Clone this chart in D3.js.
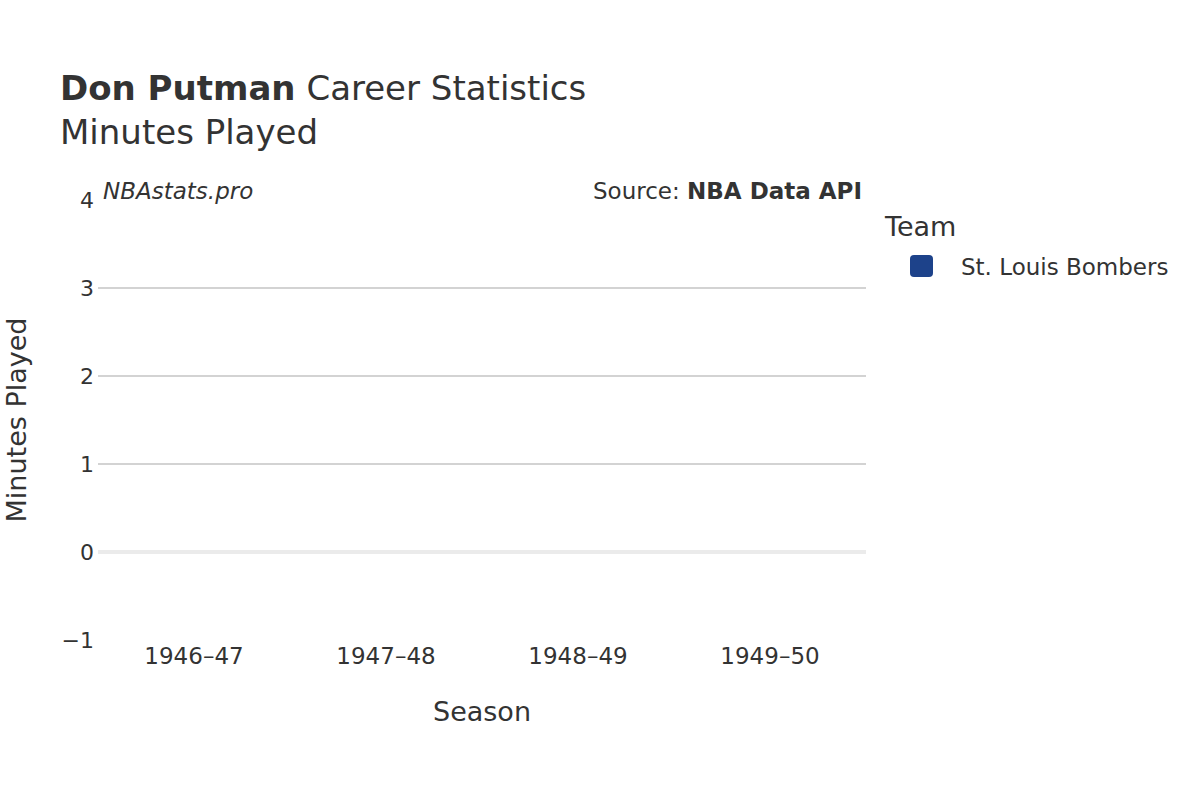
<!DOCTYPE html>
<html><head><meta charset="utf-8">
<script src="https://cdn.jsdelivr.net/npm/d3@7"></script>
<style>body{margin:0;background:#fff}text{font-family:"DejaVu Sans",sans-serif;fill:#333}</style>
</head><body><svg id="c" width="1200" height="800"></svg>
<script>
var seasons = ["1946–47", "1947–48", "1948–49", "1949–50"];
var minutes = [0, 0, 0, 0];
var yTicks = [-1, 0, 1, 2, 3, 4];
var teams = ["St. Louis Bombers"];
var teamColors = ["#1d428a"];

!(function(){
  "use strict";
  var svg = d3.select("#c");
  var x = d3.scaleBand().domain(seasons).range([98, 866]).paddingInner(0.2).paddingOuter(0.1);
  var y = d3.scaleLinear().domain([-1, 4]).range([640, 200]);

  // grid
  svg.append("g").selectAll("line").data(yTicks.filter(function(d){ return d > 0 && d < 4; }))
    .enter().append("line")
    .attr("x1", 98).attr("x2", 866)
    .attr("y1", function(d){ return y(d); }).attr("y2", function(d){ return y(d); })
    .attr("stroke", "#c4c4c4").attr("stroke-width", 1.5);
  svg.append("line").attr("x1", 98).attr("x2", 866).attr("y1", y(0)).attr("y2", y(0))
    .attr("stroke", "#ebebeb").attr("stroke-width", 4);

  // bars (all zero)
  svg.append("g").selectAll("rect").data(minutes).enter().append("rect")
    .attr("x", function(d, i){ return x(seasons[i]); })
    .attr("width", x.bandwidth())
    .attr("y", function(d){ return y(Math.max(d, 0)); })
    .attr("height", function(d){ return Math.abs(y(d) - y(0)); })
    .attr("fill", teamColors[0]);

  var yAxis = svg.append("g").attr("transform", "translate(98,0)")
    .call(d3.axisLeft(y).tickValues(yTicks).tickSize(0).tickPadding(4)
      .tickFormat(function(d){ return d < 0 ? "−" + Math.abs(d) : d; }));
  yAxis.select(".domain").remove();
  yAxis.selectAll("text").style("font-size", "22px").attr("fill", "#333");

  var xAxis = svg.append("g").attr("transform", "translate(0,640)")
    .call(d3.axisBottom(x).tickSize(0).tickPadding(8));
  xAxis.select(".domain").remove();
  xAxis.selectAll("text").style("font-size", "23px").attr("fill", "#333");

  // titles
  var t = svg.append("text").attr("x", 60).attr("y", 100).style("font-size", "34px");
  t.append("tspan").attr("font-weight", "bold").text("Don Putman");
  t.append("tspan").text(" Career Statistics");
  svg.append("text").attr("x", 60).attr("y", 144).style("font-size", "34px").text("Minutes Played");

  svg.append("text").attr("x", 103).attr("y", 199).style("font-size", "23px")
    .attr("font-style", "italic").text("NBAstats.pro");
  var s = svg.append("text").attr("x", 862).attr("y", 199).attr("text-anchor", "end").style("font-size", "23px");
  s.append("tspan").text("Source: ");
  s.append("tspan").attr("font-weight", "bold").text("NBA Data API");

  svg.append("text").attr("x", 482).attr("y", 721).attr("text-anchor", "middle")
    .style("font-size", "27px").text("Season");
  svg.append("text").attr("transform", "translate(26,420) rotate(-90)").attr("text-anchor", "middle")
    .style("font-size", "27px").text("Minutes Played");

  // legend
  svg.append("text").attr("x", 885).attr("y", 236).style("font-size", "27px").text("Team");
  var lg = svg.append("g").selectAll("g").data(teams).enter().append("g")
    .attr("transform", function(d, i){ return "translate(910," + (255 + i * 30) + ")"; });
  lg.append("rect").attr("width", 23).attr("height", 22).attr("rx", 4)
    .attr("fill", function(d, i){ return teamColors[i]; });
  lg.append("text").attr("x", 51).attr("y", 20).style("font-size", "23px").text(function(d){ return d; });
}());
</script></body></html>
